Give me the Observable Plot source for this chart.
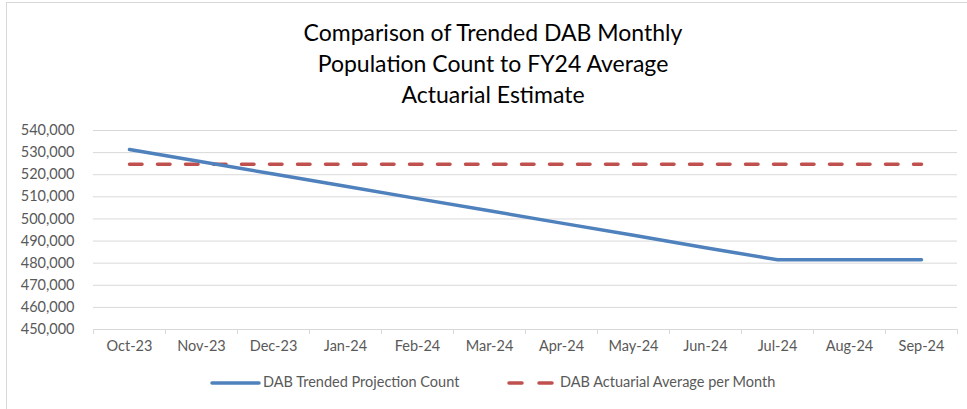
<!DOCTYPE html>
<html>
<head>
<meta charset="utf-8">
<script src="https://cdn.jsdelivr.net/npm/d3@7"></script>
<script src="https://cdn.jsdelivr.net/npm/@observablehq/plot@0.6"></script>
<style>
  html, body { margin: 0; padding: 0; background: #fff; }
  #wrap { position: relative; width: 967px; height: 409px; overflow: hidden; font-family: Lato, "Open Sans", sans-serif; }
  #frame { position: absolute; left: 6px; top: 2px; width: 961px; height: 407px; border-top: 1px solid #d9d9d9; border-left: 1px solid #d9d9d9; box-sizing: border-box; }
  #title { position: absolute; left: 243px; width: 500px; top: 17px; text-align: center; font-size: 23px; line-height: 31px; color: #000; }
  #chart { position: absolute; left: 0; top: 118px; }
  #legend { position: absolute; left: 0; top: 373px; width: 967px; height: 20px; font-size: 14.5px; color: #595959; }
  #legend span { position: absolute; top: 0px; white-space: nowrap; }
</style>
</head>
<body>
<div id="wrap">
  <div id="frame"></div>
  <div id="title">Comparison of Trended DAB Monthly<br>Population Count to FY24 Average<br>Actuarial Estimate</div>
  <div id="chart"></div>
  <div id="legend">
    <svg width="967" height="20" style="position:absolute;left:0;top:0">
      <line x1="212" x2="259" y1="10" y2="10" stroke="#4f81bd" stroke-width="3.5" stroke-linecap="round"/>
      <line x1="509" x2="552" y1="10" y2="10" stroke="#c0504d" stroke-width="3.5" stroke-linecap="round" stroke-dasharray="13,17"/>
    </svg>
    <span id="lg1" style="left:263px"></span>
    <span id="lg2" style="left:560px"></span>
  </div>
</div>
<script>
const months = ["Oct-23","Nov-23","Dec-23","Jan-24","Feb-24","Mar-24","Apr-24","May-24","Jun-24","Jul-24","Aug-24","Sep-24"];
const trended = [531400, 525900, 520300, 514800, 509200, 503700, 498100, 492600, 487000, 481500, 481500, 481500];
const actuarial = [524700, 524700, 524700, 524700, 524700, 524700, 524700, 524700, 524700, 524700, 524700, 524700];
const yTicks = [450000, 460000, 470000, 480000, 490000, 500000, 510000, 520000, 530000, 540000];
const seriesNames = ["DAB Trended Projection Count", "DAB Actuarial Average per Month"];

document.getElementById("lg1").textContent = seriesNames[0];
document.getElementById("lg2").textContent = seriesNames[1];

const rows = months.map((m, i) => ({i: i + 0.5, month: m, trended: trended[i], actuarial: actuarial[i]}));
const fmt = d3.format(",");

const chart = Plot.plot({
  width: 967,
  height: 245,
  marginLeft: 93,
  marginRight: 10,
  marginTop: 12,
  marginBottom: 34,
  style: {fontFamily: "Lato, 'Open Sans', sans-serif", fontSize: "14.5px", color: "#595959", background: "transparent"},
  x: {domain: [0, months.length], axis: null, label: null},
  y: {domain: [450000, 540000], axis: null, label: null},
  marks: [
    Plot.ruleY(yTicks, {stroke: "#d9d9d9", strokeWidth: 1}),
    Plot.axisX({ticks: d3.range(months.length + 1), tickSize: 5, tickFormat: () => "", label: null, stroke: "#d9d9d9", strokeOpacity: 1}),
    Plot.axisX({ticks: months.map((_, i) => i + 0.5), tickSize: 0, tickPadding: 11, label: null, tickFormat: d => months[Math.floor(d)], fill: "#595959", fontSize: 14.5}),
    Plot.axisY({ticks: yTicks, tickSize: 0, tickPadding: 19, label: null, tickFormat: fmt, fill: "#595959", fontSize: 14.5}),
    Plot.line(rows, {x: "i", y: "actuarial", stroke: "#c0504d", strokeWidth: 3.5, strokeDasharray: "12.5,15.5", strokeLinecap: "round"}),
    Plot.line(rows, {x: "i", y: "trended", stroke: "#4f81bd", strokeWidth: 3.5, strokeLinecap: "round", strokeLinejoin: "round"})
  ]
});
document.getElementById("chart").appendChild(chart);
</script>
</body>
</html>
